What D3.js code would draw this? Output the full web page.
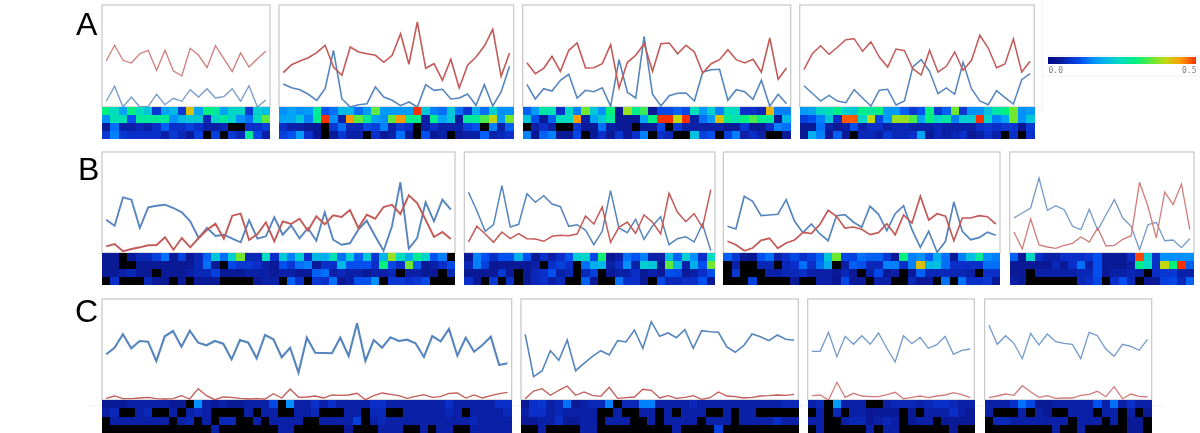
<!DOCTYPE html>
<html>
<head>
<meta charset="utf-8">
<script src="https://cdn.jsdelivr.net/npm/d3@7"></script>
<style>
  html, body { margin: 0; padding: 0; background: #fff; overflow: hidden; }
  svg { display: block; filter: blur(0.55px); }
</style>
</head>
<body>
<div id="chart"></div>
<script>
// line values, one blue and one red series per panel
var blueA1 = [5.7, 20.7, 0, 10, 0, 0.7, 12.7, 2.3, 8.7, 5.7, 17.3, 10, 18.3, 9, 10.3, 18.3, 5.7, 21.3, 0, 7];
var redA1 = [46, 61.7, 46.7, 44, 53.3, 56.7, 36.7, 56.7, 36, 31.3, 58.7, 51.7, 39.3, 61.3, 48.3, 35.3, 54, 40, 48.3, 55.7];
var blueA2 = [23, 19.3, 17.3, 12.7, 6.7, 18.3, 56.7, 8.3, 0, 2.3, 3.3, 20, 10, 6.7, 1.3, 5, 0, 22.3, 16.7, 17.7, 8, 9, 13, 1.7, 22.3, 1, 15, 40.7];
var redA2 = [34.3, 42.3, 46, 49.3, 54.3, 61.7, 40, 31.7, 60, 55, 53.3, 51.7, 44.7, 51.7, 73.3, 42.7, 85, 38.7, 43.3, 26.7, 47.7, 19, 41.7, 50, 61, 77.7, 30.7, 54];
var blueA3 = [22.7, 8, 18.3, 16, 26.7, 32.7, 9, 16.7, 15.3, 19.3, 0.7, 47.3, 14.7, 9, 70.7, 12.7, 1, 11.3, 13.7, 14, 6, 35, 37.3, 37.7, 6.7, 17.3, 15.3, 7.7, 26.7, 0.7, 12.7, 3.3];
var redA3 = [44.3, 33.3, 38.7, 50.7, 35.7, 56.7, 64, 39, 39.3, 43.3, 62.3, 19, 44.7, 51.7, 63.3, 35.7, 63.3, 64, 53.3, 61.7, 55, 34, 43.3, 47.3, 57.3, 47.3, 44, 47.7, 34.7, 69, 27.7, 39];
var blueA4 = [21.3, 13.7, 6, 11.7, 6, 4.3, 17.3, 9, 1, 16.7, 17.7, 2, 6, 40, 47.3, 35.7, 13.3, 19, 12.7, 44.7, 18.3, 6, 2.3, 16.3, 9.3, 3, 27.3, 33.3];
var redA4 = [37.3, 53.3, 61.3, 52.7, 59.7, 67.3, 68.3, 55.7, 65.3, 50, 40, 58, 56.3, 38.3, 32, 56.7, 35, 40.7, 55, 36.7, 46.7, 71.7, 59, 39.3, 43, 68, 35, 45.7];

var blueB1 = [33.3, 27.3, 55.7, 53.3, 25, 45.7, 47.3, 48.3, 45, 40.7, 31.7, 15, 25, 17, 18.3, 14.3, 10.7, 32.7, 14.3, 16.7, 35.7, 18.3, 27.7, 14.7, 25, 12.3, 40.7, 13.3, 8.3, 9.7, 23.3, 32.3, 16.7, 2.3, 26.7, 70.7, 4.3, 15, 50.7, 31.7, 53.3, 43.3];
var redB1 = [6.7, 9, 1.7, 4, 5.7, 7.7, 8, 15.7, 3.3, 15, 5.7, 15, 23.3, 29.3, 14.3, 37.3, 39.3, 13, 19, 30.7, 11.7, 31.7, 29, 34.3, 22.3, 36.7, 28.7, 37.7, 36, 43, 25, 38.3, 34.3, 46, 48.3, 39, 57.7, 50, 33.3, 16, 21, 14];
var blueB2 = [60.7, 42.3, 21.7, 28.3, 67.3, 26, 28.7, 59.3, 50.7, 57.3, 49, 46.3, 26.7, 28.3, 23, 8.3, 21.7, 62.3, 25, 20.3, 33.7, 13.7, 26.7, 36.3, 8.3, 14.3, 16.3, 11, 29, 2.3];
var redB2 = [11, 26.7, 19, 10.7, 21, 14.3, 19.3, 14.3, 14, 11.7, 16.7, 17.7, 17.3, 19, 37, 29, 46, 10.7, 25.7, 31, 19.7, 38, 31, 19, 59.7, 41, 31.3, 39.3, 25.7, 63.3];
var blueB3 = [26.7, 24, 56.7, 51.7, 37.3, 38, 38.7, 53.3, 31.7, 20.3, 29, 19.3, 12.3, 37.3, 38.3, 31, 25.7, 46.7, 39, 22.3, 39.3, 47.3, 23.3, 5.7, 21.7, 0.7, 11.7, 51, 21.7, 13.3, 15.3, 20.7, 17.7];
var redB3 = [11.7, 8.3, 2.3, 5, 12.7, 14.7, 4.7, 10, 13, 20.7, 19.3, 28.3, 42.7, 36.7, 25, 26, 23.7, 18.3, 20.3, 29.3, 18.3, 38, 30, 56.7, 33, 39.3, 36.7, 12.3, 35, 35, 37.3, 36.3, 29];
var blueB4 = [35, 40, 45, 75, 42.7, 47.3, 43.3, 26.7, 23.3, 43.7, 22.7, 38.3, 53.3, 35, 26.7, 3.3, 28.3, 30.7, 12.3, 13, 5.3, 14.3];
var redB4 = [21, 4, 34.3, 8, 6, 4.7, 7.7, 9.7, 16, 11, 25, 7, 7.7, 13.7, 17.3, 70.7, 46.7, 15, 61, 48.3, 69, 23.3];

var blueC1 = [45.7, 52.3, 65.7, 51.7, 59, 58.3, 39, 63.7, 69, 53.3, 69.3, 57.3, 54.7, 59, 56.3, 40.7, 60, 57.3, 41.7, 65, 60.7, 42.7, 52.3, 27.3, 62.3, 47.3, 47, 46.7, 62.3, 44, 76.7, 39, 60, 52.3, 62.7, 59, 60.3, 56.7, 43, 64, 58.7, 71, 44.3, 62.3, 48.3, 55, 63.3, 35, 36.7];
var redC1 = [1.7, 4, 1.3, 1.3, 2, 2.7, 1.3, 1, 1.3, 4.3, 1, 11.3, 4.3, 0.3, 3, 2.7, 1.7, 1, 1.3, 1, 6.3, 2, 11, 2.7, 3, 4, 2, 5, 4.7, 5, 6.7, 0.3, 4.3, 7, 5.7, 4.3, 1.7, 3.7, 5.3, 2.7, 3.3, 6.7, 7, 2, 5, 2, 4.3, 6.3, 7.7];
var blueC2 = [65.7, 23.3, 29, 49.3, 39.7, 60, 29.3, 36.7, 43.7, 49.3, 45, 59.3, 58, 70, 51.7, 78.3, 63.7, 67, 62.3, 70.3, 51.7, 69.3, 68.3, 67.7, 53, 47.7, 54.3, 66, 63.3, 59.3, 65, 60.7, 59.7];
var redC2 = [1.3, 9, 11.3, 4.7, 9.7, 14, 4.7, 8, 4.7, 3.7, 12.7, 1.7, 2.3, 3, 10.7, 9.7, 2, 4.3, 1.7, 2.7, 4.3, 0.7, 2.3, 8, 4, 3.3, 2, 2.7, 4, 4.3, 5, 4.7, 5.7];
var blueC3 = [48.7, 48.7, 67.7, 43.3, 63.7, 55.7, 64.3, 55.7, 67, 51.7, 38, 64.3, 56.3, 62.7, 51.7, 55.3, 63.7, 45.7, 49.7, 51];
var redC3 = [4.3, 5, 0, 17.7, 2.7, 6.7, 4, 3.3, 3.3, 5.3, 7.7, 1.3, 2.7, 4, 2.3, 4, 5, 7.3, 5.3, 2.3];
var blueC4 = [75, 55.7, 64.3, 56.7, 41.3, 66.7, 55, 66, 58.3, 56.7, 55.7, 41.3, 67.7, 64.3, 51, 43.7, 55.7, 53.7, 49.7, 60.7];
var redC4 = [2.3, 4, 6, 4.7, 14.3, 8.3, 2.7, 4.3, 1.7, 2, 2, 4.7, 5.7, 8.7, 3.3, 13.3, 1.3, 6, 3.7, 3];

// heatmap rows in hundredths, 0 draws black
var heatA1 = [
  [30, 25, 18, 30, 25, 22, 9, 18, 20, 9, 42, 18, 30, 28, 18, 24, 24, 9, 23, 21],
  [16, 26, 26, 12, 28, 28, 28, 28, 16, 20, 22, 22, 7, 24, 28, 24, 16, 14, 25, 35],
  [5, 14, 6, 6, 7, 6, 8, 13, 8, 8, 10, 8, 6, 6, 7, 0, 0, 8, 8, 10],
  [9, 15, 9, 8, 8, 8, 8, 6, 9, 7, 5, 10, 0, 10, 0, 9, 7, 28, 11, 6]
];
var heatA2 = [
  [16, 18, 16, 17, 28, 12, 14, 20, 20, 14, 17, 35, 17, 17, 17, 17, 50, 22, 15, 14, 22, 14, 9, 19, 14, 23, 16, 16],
  [18, 18, 22, 15, 29, 50, 16, 6, 45, 35, 28, 18, 16, 35, 45, 29, 29, 6, 29, 18, 22, 5, 28, 28, 34, 40, 17, 36],
  [8, 6, 6, 5, 5, 0, 9, 14, 7, 7, 11, 10, 15, 6, 9, 8, 0, 6, 8, 6, 6, 6, 10, 12, 0, 15, 6, 13],
  [10, 12, 17, 8, 4, 0, 5, 9, 6, 6, 0, 8, 5, 6, 14, 5, 0, 12, 5, 6, 0, 5, 6, 6, 13, 6, 7, 8]
];
var heatA3 = [
  [13, 17, 27, 26, 8, 24, 15, 36, 22, 16, 30, 5, 38, 29, 33, 5, 11, 11, 13, 11, 25, 17, 23, 15, 25, 25, 8, 8, 7, 43, 15, 15],
  [22, 12, 5, 13, 25, 25, 45, 6, 18, 22, 28, 5, 5, 5, 18, 30, 50, 50, 40, 50, 6, 14, 17, 42, 29, 26, 30, 34, 29, 28, 5, 20],
  [0, 6, 8, 6, 0, 0, 9, 5, 5, 14, 6, 5, 5, 0, 5, 5, 11, 0, 9, 6, 6, 6, 6, 6, 5, 5, 9, 5, 5, 8, 15, 14],
  [15, 4, 13, 15, 5, 5, 11, 0, 5, 8, 5, 9, 5, 8, 15, 0, 8, 7, 0, 0, 21, 10, 12, 0, 10, 15, 6, 8, 6, 0, 0, 5]
];
var heatA4 = [
  [17, 18, 24, 26, 29, 23, 22, 29, 28, 30, 17, 17, 13, 9, 12, 30, 9, 13, 36, 9, 16, 16, 21, 27, 30, 36, 16, 17],
  [10, 12, 15, 22, 8, 48, 48, 24, 40, 11, 17, 38, 38, 34, 18, 30, 24, 27, 15, 23, 23, 50, 24, 15, 18, 36, 16, 22],
  [5, 5, 14, 6, 5, 6, 12, 6, 8, 8, 6, 7, 7, 6, 6, 6, 7, 6, 6, 6, 6, 8, 9, 8, 9, 9, 4, 9],
  [5, 19, 15, 5, 13, 5, 0, 7, 7, 6, 9, 7, 7, 8, 18, 5, 7, 6, 7, 8, 5, 6, 8, 6, 0, 8, 0, 8]
];
var heatB1 = [
  [5, 5, 0, 5, 7, 7, 10, 14, 5, 10, 5, 7, 13, 22, 14, 23, 36, 7, 7, 25, 8, 22, 15, 23, 8, 20, 19, 26, 14, 23, 13, 22, 9, 20, 38, 25, 19, 29, 24, 12, 15, 0],
  [5, 5, 0, 0, 5, 5, 5, 5, 5, 5, 5, 7, 14, 5, 0, 11, 9, 9, 8, 6, 5, 12, 9, 14, 15, 5, 8, 8, 20, 12, 12, 12, 8, 30, 11, 8, 36, 13, 5, 6, 8, 11],
  [5, 5, 6, 7, 5, 5, 0, 5, 5, 5, 6, 7, 7, 10, 5, 5, 5, 6, 6, 6, 5, 6, 6, 5, 5, 13, 14, 6, 7, 6, 6, 5, 6, 6, 7, 0, 6, 6, 5, 5, 0, 7],
  [0, 8, 0, 0, 0, 7, 5, 5, 0, 5, 0, 5, 5, 5, 0, 0, 0, 0, 5, 6, 6, 0, 13, 8, 0, 9, 8, 14, 5, 6, 12, 12, 16, 0, 9, 9, 8, 9, 11, 0, 0, 0]
];
var heatB2 = [
  [5, 15, 12, 8, 12, 12, 19, 12, 5, 8, 6, 8, 12, 23, 24, 11, 31, 4, 6, 14, 12, 15, 6, 6, 21, 13, 23, 16, 8, 25],
  [7, 15, 10, 5, 5, 5, 5, 5, 6, 0, 8, 10, 8, 0, 14, 19, 20, 6, 8, 16, 6, 23, 22, 5, 35, 20, 6, 19, 12, 36],
  [5, 5, 5, 5, 9, 5, 0, 5, 7, 8, 12, 6, 7, 0, 7, 10, 0, 5, 6, 6, 8, 5, 6, 5, 12, 11, 5, 6, 8, 12],
  [8, 5, 0, 9, 0, 8, 0, 5, 7, 8, 6, 7, 0, 0, 13, 5, 0, 0, 14, 8, 8, 5, 0, 11, 7, 7, 8, 8, 12, 5]
];
var heatB3 = [
  [13, 9, 5, 4, 12, 14, 6, 8, 11, 8, 10, 13, 22, 36, 11, 10, 14, 13, 13, 9, 5, 30, 15, 16, 13, 19, 14, 5, 15, 21, 28, 16, 15],
  [0, 6, 0, 0, 7, 7, 0, 7, 8, 14, 8, 14, 19, 0, 6, 13, 12, 7, 7, 15, 15, 8, 15, 42, 20, 21, 14, 8, 8, 8, 8, 14, 14],
  [0, 9, 0, 0, 0, 6, 6, 7, 7, 8, 6, 6, 6, 5, 7, 5, 0, 6, 11, 5, 6, 0, 5, 13, 7, 7, 7, 7, 7, 6, 0, 8, 8],
  [0, 0, 0, 10, 0, 0, 0, 0, 5, 0, 0, 6, 6, 4, 11, 5, 5, 0, 6, 6, 0, 0, 7, 5, 5, 0, 14, 0, 14, 8, 8, 9, 5]
];
var heatB4 = [
  [13, 5, 24, 8, 6, 6, 8, 8, 8, 9, 12, 5, 5, 5, 8, 49, 23, 8, 16, 16, 16, 16],
  [5, 5, 5, 5, 5, 7, 5, 8, 14, 6, 12, 5, 5, 5, 6, 29, 25, 8, 40, 30, 50, 13],
  [5, 5, 0, 6, 6, 6, 6, 6, 7, 7, 12, 5, 6, 6, 7, 6, 0, 8, 9, 9, 6, 6],
  [6, 5, 0, 0, 0, 0, 0, 0, 7, 8, 11, 0, 8, 12, 7, 0, 5, 5, 10, 11, 7, 13]
];
var heatC1 = [
  [5, 5, 5, 6, 6, 6, 6, 6, 5, 5, 0, 16, 6, 5, 6, 5, 5, 6, 6, 6, 11, 0, 16, 6, 6, 8, 6, 8, 6, 6, 6, 6, 8, 8, 6, 6, 6, 6, 6, 6, 6, 8, 6, 6, 6, 6, 6, 8, 8],
  [6, 7, 0, 0, 6, 7, 0, 0, 6, 0, 6, 7, 6, 0, 0, 0, 0, 6, 0, 6, 6, 0, 0, 6, 6, 7, 0, 0, 0, 6, 6, 0, 7, 7, 0, 0, 6, 6, 6, 6, 6, 7, 6, 0, 6, 6, 6, 6, 7],
  [0, 6, 6, 6, 6, 6, 6, 6, 0, 6, 7, 0, 6, 0, 7, 7, 0, 0, 6, 0, 6, 6, 6, 6, 0, 0, 6, 6, 6, 6, 10, 0, 6, 7, 6, 6, 6, 6, 6, 6, 6, 6, 6, 6, 7, 6, 6, 6, 6],
  [0, 0, 0, 0, 0, 0, 0, 0, 0, 0, 0, 0, 0, 6, 0, 0, 0, 0, 0, 0, 0, 6, 6, 0, 0, 0, 0, 0, 0, 5, 0, 0, 0, 6, 6, 6, 0, 0, 6, 0, 6, 6, 0, 0, 6, 6, 6, 6, 6]
];
var heatC2 = [
  [5, 8, 9, 6, 7, 14, 5, 6, 7, 7, 15, 0, 7, 7, 15, 15, 6, 6, 6, 6, 7, 6, 6, 6, 6, 6, 6, 6, 6, 6, 6, 7, 7],
  [6, 8, 8, 6, 7, 6, 6, 6, 6, 0, 0, 6, 0, 0, 6, 6, 0, 6, 0, 6, 6, 6, 0, 0, 6, 0, 6, 6, 0, 0, 0, 0, 0],
  [5, 5, 6, 6, 8, 5, 5, 6, 6, 0, 6, 6, 6, 0, 0, 6, 0, 6, 6, 6, 6, 0, 6, 6, 6, 0, 6, 6, 6, 6, 8, 6, 6],
  [0, 0, 6, 0, 0, 0, 0, 6, 6, 0, 0, 0, 0, 0, 0, 0, 0, 0, 6, 0, 0, 0, 0, 10, 0, 0, 0, 0, 0, 0, 0, 0, 0]
];
var heatC3 = [
  [6, 7, 0, 17, 6, 6, 6, 0, 0, 6, 7, 7, 7, 6, 7, 8, 8, 7, 6, 6],
  [0, 6, 0, 7, 0, 6, 6, 5, 5, 5, 5, 0, 5, 0, 6, 6, 6, 8, 6, 5],
  [6, 6, 0, 0, 6, 7, 7, 5, 6, 7, 6, 0, 5, 6, 6, 0, 5, 5, 5, 5],
  [0, 6, 0, 0, 0, 0, 0, 6, 0, 6, 6, 0, 0, 0, 0, 0, 0, 5, 0, 0]
];
var heatC4 = [
  [6, 6, 6, 8, 14, 11, 5, 5, 6, 6, 6, 6, 6, 12, 6, 14, 6, 8, 6, 6],
  [6, 0, 0, 0, 6, 0, 6, 5, 0, 0, 6, 6, 6, 0, 6, 6, 0, 6, 0, 5],
  [0, 7, 7, 6, 6, 6, 6, 6, 6, 6, 0, 6, 6, 6, 0, 6, 0, 5, 5, 0],
  [0, 0, 0, 0, 0, 0, 0, 0, 6, 0, 0, 6, 0, 0, 0, 0, 0, 5, 5, 0]
];

var colorStops = [1, 5, 8, 12, 16, 20, 25, 30, 36, 40, 45, 50];
var colorValues = ["#00088a", "#0a1a96", "#0a2fc8", "#0050f0", "#0090ff", "#00b8e8", "#00dcc0", "#00f080", "#70e830", "#c0d810", "#ff9a00", "#ff3000"];
var legendTicks = [0, 0.5];
var rowLabels = ["A", "B", "C"];

var width = 1200, height = 433;

// frame geometry of each panel, the series are looked up by name
var panels = [
  { blue: blueA1, red: redA1, heat: heatA1, x0: 102, x1: 270, top: 5, base: 107, end: 139, lw: 1.3, soft: true },
  { blue: blueA2, red: redA2, heat: heatA2, x0: 279, x1: 513.7, top: 5, base: 107, end: 139, lw: 1.6 },
  { blue: blueA3, red: redA3, heat: heatA3, x0: 522.7, x1: 790.7, top: 5, base: 107, end: 139, lw: 1.6 },
  { blue: blueA4, red: redA4, heat: heatA4, x0: 799.7, x1: 1034.3, top: 5, base: 107, end: 139, lw: 1.5 },
  { blue: blueB1, red: redB1, heat: heatB1, x0: 102, x1: 455, top: 152, base: 253, end: 285, lw: 1.9 },
  { blue: blueB2, red: redB2, heat: heatB2, x0: 464.3, x1: 715, top: 152, base: 253, end: 285, lw: 1.5 },
  { blue: blueB3, red: redB3, heat: heatB3, x0: 723.3, x1: 1000, top: 152, base: 253, end: 285, lw: 1.7 },
  { blue: blueB4, red: redB4, heat: heatB4, x0: 1009.7, x1: 1194, top: 152, base: 253, end: 285, lw: 1.3, soft: true },
  { blue: blueC1, red: redC1, heat: heatC1, x0: 102, x1: 511.7, top: 299, base: 400, end: 433, lw: 2.1, redLw: 1.3 },
  { blue: blueC2, red: redC2, heat: heatC2, x0: 521, x1: 798.3, top: 299, base: 400, end: 433, lw: 1.6, redLw: 1.3 },
  { blue: blueC3, red: redC3, heat: heatC3, x0: 807.7, x1: 974.3, top: 299, base: 400, end: 433, lw: 1.3, soft: true },
  { blue: blueC4, red: redC4, heat: heatC4, x0: 984.7, x1: 1151.7, top: 299, base: 400, end: 433, lw: 1.3, soft: true }
];
var labelPos = [{ x: 76, y: 35 }, { x: 78, y: 180 }, { x: 75, y: 322 }];

var svg = d3.select("#chart").append("svg")
    .attr("width", width)
    .attr("height", height);

var color = d3.scaleLinear().domain(colorStops).range(colorValues).clamp(true);

function heatColor(v) {
    return v === 0 ? "#000" : color(v);
}

// faint leftovers of the pasted figure
var faint = svg.append("g").attr("stroke", "#f1f1f1").attr("fill", "none");
faint.append("path").attr("d", d3.line()([[1042, 0], [1042, 112]]));
faint.append("path").attr("d", d3.line()([[1042, 56], [1200, 56]]));
faint.append("path").attr("d", d3.line()([[1042, 76], [1200, 76]]));
faint.append("path").attr("d", d3.line()([[88, 406], [1165, 406]]));

// one group per panel: frame, lines, heatmap
panels.forEach(function (p) {
    var n = p.blue.length;
    var x = d3.scaleBand().domain(d3.range(n)).range([p.x0, p.x1]);
    var y = d3.scaleLinear().domain([0, p.base - p.top]).range([p.base, p.top]);
    var rowY = d3.scaleBand().domain(d3.range(4)).range([p.base, p.end]);
    var g = svg.append("g");

    g.append("rect")
        .attr("x", p.x0)
        .attr("y", p.top)
        .attr("width", p.x1 - p.x0)
        .attr("height", p.base - p.top)
        .attr("fill", "#fff")
        .attr("stroke", "#c6c6c6")
        .attr("stroke-width", 1.2);

    var line = d3.line()
        .x(function (d, i) { return x(i) + x.bandwidth() / 2; })
        .y(function (d) { return y(d); });

    g.append("path")
        .attr("d", line(p.blue))
        .attr("fill", "none")
        .attr("stroke", p.soft ? "#7299c9" : "#5685bd")
        .attr("stroke-width", p.lw);

    g.append("path")
        .attr("d", line(p.red))
        .attr("fill", "none")
        .attr("stroke", p.soft ? "#d07d7a" : "#c25a57")
        .attr("stroke-width", p.redLw || p.lw);

    p.heat.forEach(function (row, r) {
        g.selectAll(null)
            .data(row)
            .enter()
            .append("rect")
            .attr("x", function (d, i) { return x(i); })
            .attr("y", rowY(r))
            .attr("width", x.bandwidth() + 0.3)
            .attr("height", rowY.bandwidth() + 0.3)
            .attr("fill", heatColor)
            .attr("shape-rendering", "crispEdges");
    });
});

// colour bar, gradient stops come from the same scale as the cells
var defs = svg.append("defs");
var grad = defs.append("linearGradient").attr("id", "bar");
grad.selectAll("stop")
    .data(colorStops)
    .enter()
    .append("stop")
    .attr("offset", function (d) { return (d - 1) / 49; })
    .attr("stop-color", function (d) { return color(d); });

var legendScale = d3.scaleLinear().domain(legendTicks).range([1048, 1196]);

svg.append("rect")
    .attr("x", legendScale(0))
    .attr("y", 57)
    .attr("width", legendScale(0.5) - legendScale(0))
    .attr("height", 7)
    .attr("fill", "url(#bar)");

var legendAxis = svg.append("g")
    .attr("transform", "translate(0,64)")
    .call(d3.axisBottom(legendScale).tickValues(legendTicks).tickFormat(d3.format(".1f")).tickSize(0).tickPadding(3));
legendAxis.select(".domain").remove();
legendAxis.selectAll("text")
    .attr("text-anchor", function (d) { return d === 0 ? "start" : "end"; })
    .attr("font-family", "'DejaVu Sans Mono', monospace")
    .attr("font-size", 8)
    .attr("fill", "#808080");

// panel group letters
svg.selectAll(".letter")
    .data(rowLabels)
    .enter()
    .append("text")
    .attr("class", "letter")
    .attr("x", function (d, i) { return labelPos[i].x; })
    .attr("y", function (d, i) { return labelPos[i].y; })
    .attr("font-family", "'Liberation Sans', sans-serif")
    .attr("font-size", 32)
    .attr("fill", "#000")
    .text(function (d) { return d; });
</script>
</body>
</html>
